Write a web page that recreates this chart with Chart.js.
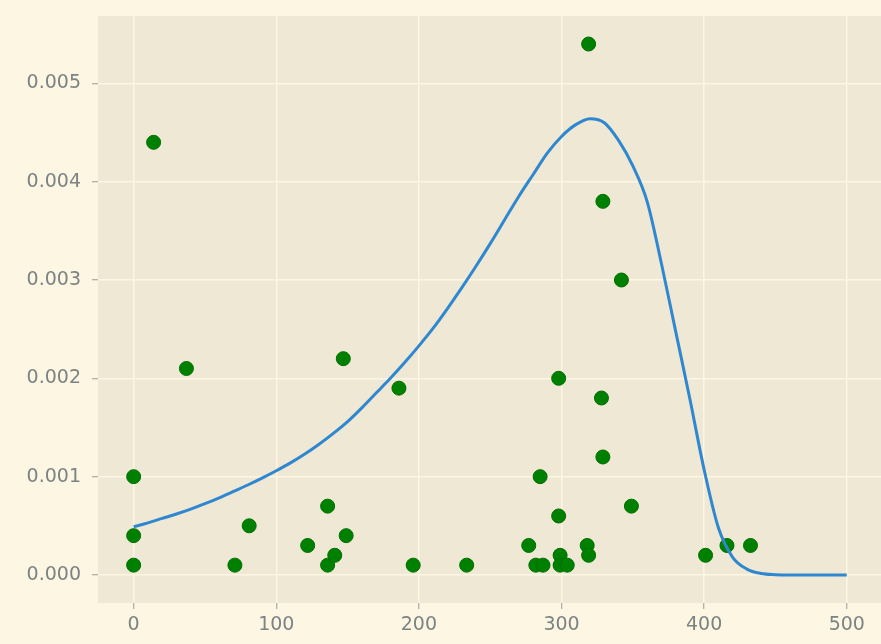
<!DOCTYPE html>
<html>
<head>
<meta charset="utf-8">
<script src="https://cdn.jsdelivr.net/npm/chart.js@4/dist/chart.umd.min.js"></script>
<style>
  html, body { margin: 0; padding: 0; background: #FDF6E3; }
  canvas { display: block; }
</style>
</head>
<body>
<canvas id="c" width="881" height="644"></canvas>
<script>
// Scatter observations
const scatterX = [0, 0, 0, 14, 37, 71, 81, 122, 136, 136, 141, 147, 149, 186, 196, 233.5,
  277, 282, 287, 285, 298, 298, 299, 299, 304, 319, 318, 319, 329, 328, 329, 342, 349,
  401, 416, 432.5];
const scatterY = [0.0001, 0.0004, 0.001, 0.0044, 0.0021, 0.0001, 0.0005, 0.0003, 0.0007, 0.0001, 0.0002, 0.0022, 0.0004, 0.0019, 0.0001, 0.0001,
  0.0003, 0.0001, 0.0001, 0.001, 0.0006, 0.002, 0.0002, 0.0001, 0.0001, 0.0054, 0.0003, 0.0002, 0.0038, 0.0018, 0.0012, 0.003, 0.0007,
  0.0002, 0.0003, 0.0003];

// Fitted density curve
const curveX = [0, 10, 20, 30, 40, 50, 60, 70, 80, 90, 100, 110, 120, 130, 140, 150, 160, 170, 180, 190,
  200, 210, 220, 230, 240, 250, 260, 270, 280, 290, 300, 310, 320, 330, 340,
  350, 360, 370, 380, 390, 400, 410, 420, 430, 440, 450, 460, 480, 500];
const curveY = [0.00049, 0.00053, 0.000575, 0.00062, 0.00067, 0.000725, 0.000785, 0.00085, 0.000915, 0.000985,
  0.00106, 0.00114, 0.00123, 0.00133, 0.00144, 0.00156, 0.00170, 0.00185, 0.00200, 0.00216,
  0.00233, 0.00251, 0.00271, 0.00292, 0.00314, 0.00337, 0.00361, 0.00385, 0.00407, 0.00429,
  0.00446, 0.00458, 0.00464, 0.00460, 0.00442,
  0.00416, 0.00380, 0.00317, 0.00248, 0.00179, 0.00107, 0.00048, 0.00018, 0.00006, 0.000015, 0.000003, 0.0, 0.0, 0.0];

const xTicks = [0, 100, 200, 300, 400, 500];
const yTicks = [0, 0.001, 0.002, 0.003, 0.004, 0.005];

const bgPlugin = {
  id: 'bg',
  beforeDraw(chart) {
    const ctx = chart.ctx, a = chart.chartArea;
    ctx.save();
    ctx.fillStyle = '#FDF6E3';
    ctx.fillRect(0, 0, chart.width, chart.height);
    ctx.fillStyle = '#EEE8D5';
    ctx.fillRect(a.left, a.top, a.right - a.left, a.bottom - a.top);
    ctx.restore();
  }
};

// Stretch the plot area to the right edge of the canvas, like the reference
const areaPlugin = {
  id: 'area',
  afterLayout(chart) {
    const right = chart.width;
    const xs = chart.scales.x;
    chart.chartArea.right = right;
    chart.chartArea.width = right - chart.chartArea.left;
    xs.right = right;
    xs.width = right - xs.left;
    xs.configure();
  }
};

const tickFont = { family: '"DejaVu Sans", sans-serif', size: 19 };
const tickColor = '#7b8383';

new Chart(document.getElementById('c'), {
  type: 'scatter',
  data: {
    datasets: [
      {
        type: 'line',
        label: 'fit',
        data: curveX.map((x, i) => ({ x: x, y: curveY[i] })),
        borderColor: '#2F88CF',
        borderWidth: 3,
        pointRadius: 0,
        fill: false,
        cubicInterpolationMode: 'monotone',
        order: 0
      },
      {
        label: 'data',
        data: scatterX.map((x, i) => ({ x: x, y: scatterY[i] })),
        backgroundColor: '#008000',
        borderColor: '#006f00',
        borderWidth: 1,
        pointRadius: 7,
        order: 1
      }
    ]
  },
  options: {
    responsive: false,
    animation: false,
    devicePixelRatio: 1,
    layout: { padding: { top: 16, right: 0, left: 0, bottom: 0 } },
    plugins: { legend: { display: false }, tooltip: { enabled: false } },
    scales: {
      x: {
        type: 'linear',
        min: -25,
        max: 524,
        afterBuildTicks(s) { s.ticks = xTicks.map(v => ({ value: v })); },
        afterFit(s) { s.height = 41; s.paddingLeft = 0; s.paddingRight = 0; },
        grid: { color: '#FDF6E3', lineWidth: 1.5, tickColor: '#9a9a9a', tickLength: 6, tickWidth: 1 },
        border: { display: false },
        ticks: { font: tickFont, color: tickColor, padding: 5, maxRotation: 0,
          callback: v => String(v) }
      },
      y: {
        type: 'linear',
        min: -0.000285,
        max: 0.005685,
        afterBuildTicks(s) { s.ticks = yTicks.map(v => ({ value: v })); },
        afterFit(s) { s.width = 98; s.paddingTop = 0; s.paddingBottom = 0; },
        grid: { color: '#FDF6E3', lineWidth: 1.5, tickColor: '#9a9a9a', tickLength: 6, tickWidth: 1 },
        border: { display: false },
        ticks: { font: tickFont, color: tickColor, padding: 11,
          callback: v => Number(v).toFixed(3) }
      }
    }
  },
  plugins: [bgPlugin, areaPlugin]
});
</script>
</body>
</html>
